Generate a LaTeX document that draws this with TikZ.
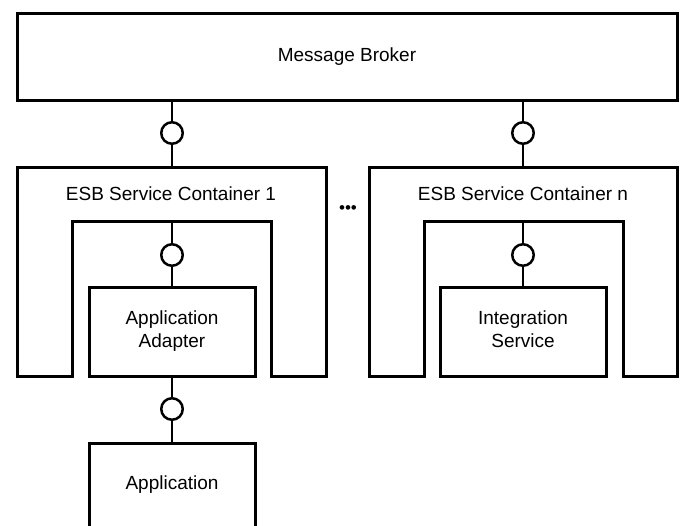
\documentclass[tikz,border=0pt]{standalone}
\usepackage{fontspec}
\setmainfont{Liberation Sans}
\newcommand\lblfont{\fontsize{19}{23}\selectfont}
\begin{document}
\begin{tikzpicture}[x=1pt,y=-1pt,
  box/.style={draw, line width=3pt, fill=white, align=center, font=\lblfont, inner sep=0pt},
  lolli/.style={circle, draw, line width=2.5pt, minimum size=21.5pt, inner sep=0pt, fill=white},
  wire/.style={line width=1.5pt},
  cont/.style={draw, line width=3pt, line join=miter, fill=white},
  lbl/.style={font=\lblfont, align=center, inner sep=0pt}]
\useasboundingbox (0,0) rectangle (683,525);
\clip (0,0) rectangle (683,525);
% broker
\node[box, minimum width=660pt, minimum height=87pt] (broker) at (347,56.5) {Message Broker};
% containers
\draw[cont] (17,376) -- (17,167) -- (326,167) -- (326,376) -- (271,376) -- (271,221) -- (72,221) -- (72,376) -- cycle;
\draw[cont] (369,376) -- (369,167) -- (677,167) -- (677,376) -- (623,376) -- (623,221) -- (424,221) -- (424,376) -- cycle;
\node[lbl] (c1label) at (171,194) {ESB Service Container 1};
\node[lbl] (cnlabel) at (523,194) {ESB Service Container n};
\node[font=\fontsize{17}{17}\selectfont, inner sep=0pt] (dots) at (348,210) {•••};
\coordinate (c1top) at (172,167);
\coordinate (cntop) at (523,167);
\coordinate (c1in) at (172,221);
\coordinate (cnin) at (523,221);
% inner boxes
\node[box, minimum width=166pt, minimum height=89pt] (adapter) at (172,331.5) {\strut Application\\\strut Adapter};
\node[box, minimum width=166pt, minimum height=89pt] (integ) at (523,331.5) {\strut Integration\\\strut Service};
\node[box, minimum width=166pt, minimum height=84pt] (app) at (172,485) {Application};
% lollipops
\node[lolli] (l1) at (172,133) {};
\node[lolli] (l2) at (523,133) {};
\node[lolli] (l3) at (172,255) {};
\node[lolli] (l4) at (523,255) {};
\node[lolli] (l5) at (172,409) {};
% wires
\draw[wire] (broker.south -| l1) -- (l1) -- (c1top);
\draw[wire] (broker.south -| l2) -- (l2) -- (cntop);
\draw[wire] (c1in) -- (l3) -- (adapter);
\draw[wire] (cnin) -- (l4) -- (integ);
\draw[wire] (adapter) -- (l5) -- (app);
\end{tikzpicture}
\end{document}
